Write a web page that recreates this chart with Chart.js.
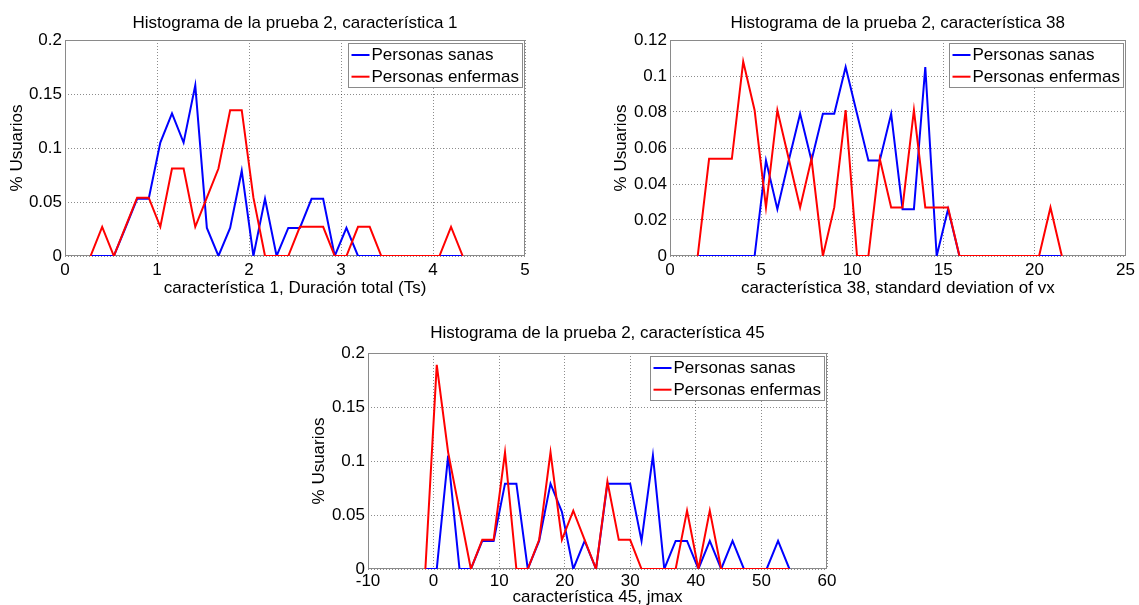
<!DOCTYPE html>
<html>
<head>
<meta charset="utf-8">
<script src="https://cdn.jsdelivr.net/npm/chart.js@4.4.1/dist/chart.umd.min.js"></script>
<style>
  html, body { margin:0; padding:0; background:#fff; overflow:hidden; width:1139px; height:605px; }
  canvas { position:absolute; }
</style>
</head>
<body>
<canvas id="plot1" width="560" height="300" style="left:0;top:0"></canvas>
<canvas id="plot2" width="559" height="300" style="left:580px;top:0"></canvas>
<canvas id="plot3" width="580" height="300" style="left:280px;top:310px"></canvas>
<script>
// --- data ---
const legendLabels = ['Personas sanas', 'Personas enfermas'];

// Plot 1: característica 1, Duración total (Ts)
const p1Title = 'Histograma de la prueba 2, característica 1';
const p1XLabel = 'característica 1, Duración total (Ts)';
const p1XTicks = [0, 1, 2, 3, 4, 5];
const p1YTicks = [0, 0.05, 0.1, 0.15, 0.2];
const p1X = [0.278, 0.404, 0.531, 0.657, 0.784, 0.910, 1.036, 1.163, 1.289, 1.416, 1.542,
  1.668, 1.795, 1.921, 2.048, 2.174, 2.300, 2.427, 2.553, 2.680, 2.806, 2.932, 3.059,
  3.185, 3.312, 3.438, 3.564, 3.691, 3.817, 3.944, 4.070, 4.196, 4.323];
const p1Sanas = [0, 0, 0, 0.026, 0.053, 0.053, 0.105, 0.132, 0.105, 0.158, 0.026, 0, 0.026,
  0.079, 0, 0.053, 0, 0.026, 0.026, 0.053, 0.053, 0, 0.026, 0, 0, 0, 0, 0, 0, 0, 0, 0, 0];
const p1Enfermas = [0, 0.027, 0, 0.027, 0.054, 0.054, 0.027, 0.081, 0.081, 0.027, 0.054,
  0.081, 0.135, 0.135, 0.054, 0, 0, 0, 0.027, 0.027, 0.027, 0, 0, 0.027, 0.027, 0, 0, 0,
  0, 0, 0, 0.027, 0];

// Plot 2: característica 38, standard deviation of vx
const p2Title = 'Histograma de la prueba 2, característica 38';
const p2XLabel = 'característica 38, standard deviation of vx';
const p2XTicks = [0, 5, 10, 15, 20, 25];
const p2YTicks = [0, 0.02, 0.04, 0.06, 0.08, 0.1, 0.12];
const p2X = [1.520, 2.145, 2.769, 3.394, 4.018, 4.643, 5.267, 5.892, 6.516, 7.141, 7.765,
  8.390, 9.014, 9.639, 10.263, 10.888, 11.512, 12.137, 12.761, 13.386, 14.010, 14.635,
  15.259, 15.884, 16.508, 17.133, 17.757, 18.382, 19.006, 19.631, 20.255, 20.880, 21.504];
const p2Sanas = [0, 0, 0, 0, 0, 0, 0.053, 0.026, 0.053, 0.079, 0.053, 0.079, 0.079, 0.105,
  0.079, 0.053, 0.053, 0.079, 0.026, 0.026, 0.105, 0, 0.026, 0, 0, 0, 0, 0, 0, 0, 0, 0, 0];
const p2Enfermas = [0, 0.054, 0.054, 0.054, 0.108, 0.081, 0.027, 0.081, 0.054, 0.027, 0.054,
  0, 0.027, 0.081, 0, 0, 0.054, 0.027, 0.027, 0.081, 0.027, 0.027, 0.027, 0, 0, 0, 0, 0,
  0, 0, 0, 0.027, 0];

// Plot 3: característica 45, jmax
const p3Title = 'Histograma de la prueba 2, característica 45';
const p3XLabel = 'característica 45, jmax';
const p3XTicks = [-10, 0, 10, 20, 30, 40, 50, 60];
const p3YTicks = [0, 0.05, 0.1, 0.15, 0.2];
const p3X = [-1.250, 0.485, 2.220, 3.955, 5.690, 7.425, 9.160, 10.895, 12.630, 14.365,
  16.100, 17.835, 19.570, 21.305, 23.040, 24.775, 26.510, 28.245, 29.980, 31.715, 33.450,
  35.185, 36.920, 38.655, 40.390, 42.125, 43.860, 45.595, 47.330, 49.065, 50.800, 52.535,
  54.270];
const p3Sanas = [0, 0, 0.105, 0, 0, 0.026, 0.026, 0.079, 0.079, 0, 0.026, 0.079, 0.053, 0,
  0.026, 0, 0.079, 0.079, 0.079, 0.026, 0.105, 0, 0.026, 0.026, 0, 0.026, 0, 0.026, 0, 0,
  0, 0.026, 0];
const p3Enfermas = [0, 0.189, 0.108, 0.054, 0, 0.027, 0.027, 0.108, 0, 0, 0.027, 0.108,
  0.027, 0.054, 0.027, 0, 0.081, 0.027, 0.027, 0, 0, 0, 0, 0.054, 0, 0.054, 0, 0, 0, 0,
  0, 0, 0];

const FONT = '"Liberation Sans", Arial, sans-serif';

// axes box (MATLAB style, all four sides)
const axesBox = {
  id: 'axesBox',
  beforeDatasetsDraw(chart) {
    const {ctx, chartArea: a} = chart;
    ctx.save();
    ctx.strokeStyle = '#8a8a8a';
    ctx.lineWidth = 1;
    ctx.strokeRect(Math.round(a.left) + 0.5, Math.round(a.top) + 0.5,
      Math.round(a.right - a.left) - 1, Math.round(a.bottom - a.top) - 1);
    ctx.restore();
  }
};

// boxed legend in the top right corner of the axes
const boxLegend = {
  id: 'boxLegend',
  afterDatasetsDraw(chart) {
    const {ctx, chartArea: a} = chart;
    const sets = chart.data.datasets;
    ctx.save();
    ctx.font = '17px ' + FONT;
    const textW = Math.max(...sets.map(d => ctx.measureText(d.label).width));
    const w = Math.round(23.5 + textW + 3.5), h = 44;
    const x = Math.round(a.right - 3 - w), y = Math.round(a.top + 3);
    ctx.fillStyle = '#fff';
    ctx.fillRect(x, y, w, h);
    ctx.strokeStyle = '#8a8a8a';
    ctx.lineWidth = 1;
    ctx.strokeRect(x + 0.5, y + 0.5, w, h);
    sets.forEach((d, i) => {
      const cy = y + 12 + i * 21.7;
      ctx.strokeStyle = d.borderColor;
      ctx.lineWidth = 2;
      ctx.beginPath();
      ctx.moveTo(x + 3.5, cy);
      ctx.lineTo(x + 21.5, cy);
      ctx.stroke();
      ctx.fillStyle = '#000';
      ctx.textBaseline = 'middle';
      ctx.fillText(d.label, x + 23.5, cy + 0.5);
    });
    ctx.restore();
  }
};

function series(xs, ys) {
  return xs.map((x, i) => ({x: x, y: ys[i]}));
}

function makePlot(id, o) {
  const gridStyle = {color: 'rgba(0,0,0,0.45)', drawTicks: false, lineWidth: 1};
  new Chart(document.getElementById(id), {
    type: 'line',
    data: {
      datasets: [
        {label: legendLabels[0], data: series(o.x, o.sanas), borderColor: '#0000ff',
         borderWidth: 2, pointRadius: 0, tension: 0, order: 1},
        {label: legendLabels[1], data: series(o.x, o.enfermas), borderColor: '#ff0000',
         borderWidth: 2, pointRadius: 0, tension: 0, order: 0},
      ],
    },
    options: {
      responsive: false,
      animation: false,
      events: [],
      layout: {padding: {left: 0, right: o.padRight, top: 0, bottom: 0}},
      plugins: {
        legend: {display: false},
        tooltip: {enabled: false},
        title: {
          display: true, text: o.title, color: '#000', fullSize: false,
          font: {family: FONT, size: 17, weight: 'normal', lineHeight: 1.2},
          padding: {top: o.titleTop, bottom: o.titleBottom},
        },
      },
      scales: {
        x: {
          type: 'linear',
          min: o.xTicks[0], max: o.xTicks[o.xTicks.length - 1],
          ticks: {stepSize: o.xTicks[1] - o.xTicks[0], color: '#000', padding: o.xTickPad,
                  font: {family: FONT, size: 17}, maxRotation: 0, autoSkip: false},
          grid: gridStyle,
          border: {display: false, dash: [1, 2]},
          title: {display: true, text: o.xLabel, color: '#000',
                  font: {family: FONT, size: 17}, padding: {top: 0, bottom: o.xTitlePad}},
          afterFit: s => { s.height = o.xHeight; },
        },
        y: {
          min: o.yTicks[0], max: o.yTicks[o.yTicks.length - 1],
          ticks: {stepSize: o.yTicks[1] - o.yTicks[0], color: '#000', padding: 3,
                  font: {family: FONT, size: 17},
                  callback: v => String(+v.toFixed(3))},
          grid: gridStyle,
          border: {display: false, dash: [1, 2]},
          title: {display: true, text: '% Usuarios', color: '#000',
                  font: {family: FONT, size: 17}, padding: {top: o.yTitlePad, bottom: 0}},
          afterFit: s => { s.width = o.yWidth; },
        },
      },
    },
    plugins: [axesBox, boxLegend],
  });
}

makePlot('plot1', {
  title: p1Title, xLabel: p1XLabel, xTicks: p1XTicks, yTicks: p1YTicks,
  x: p1X, sanas: p1Sanas, enfermas: p1Enfermas,
  padRight: 35, titleTop: 13, titleBottom: 6.6, yWidth: 65, yTitlePad: 7.6,
  xHeight: 44, xTickPad: 4, xTitlePad: 1.8,
});
makePlot('plot2', {
  title: p2Title, xLabel: p2XLabel, xTicks: p2XTicks, yTicks: p2YTicks,
  x: p2X, sanas: p2Sanas, enfermas: p2Enfermas,
  padRight: 11, titleTop: 13, titleBottom: 6.6, yWidth: 90, yTitlePad: 31.5,
  xHeight: 44, xTickPad: 4, xTitlePad: 1.8,
});
makePlot('plot3', {
  title: p3Title, xLabel: p3XLabel, xTicks: p3XTicks, yTicks: p3YTicks,
  x: p3X, sanas: p3Sanas, enfermas: p3Enfermas,
  padRight: 33, titleTop: 12.8, titleBottom: 9.8, yWidth: 88, yTitlePad: 28.8,
  xHeight: 41, xTickPad: 2.5, xTitlePad: 2.8,
});
</script>
</body>
</html>
